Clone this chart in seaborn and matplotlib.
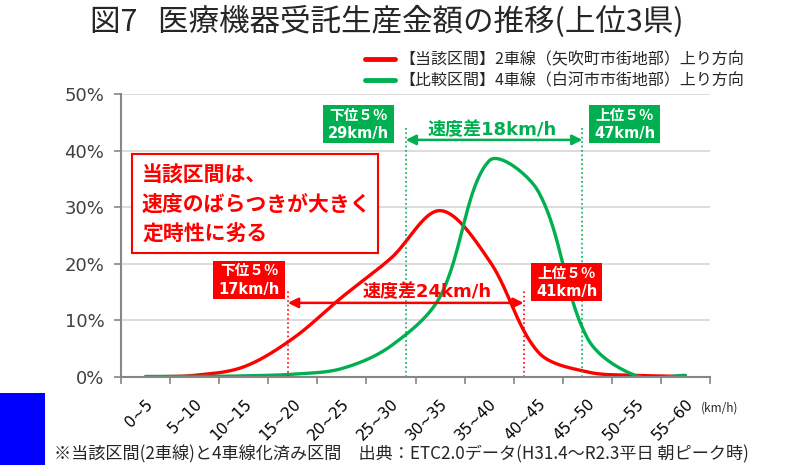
import numpy as np
import pandas as pd
import matplotlib
matplotlib.use("Agg")
import matplotlib.pyplot as plt
import seaborn as sns
from matplotlib.patches import Rectangle

# ---- data -------------------------------------------------------------
categories = ["0~5", "5~10", "10~15", "15~20", "20~25", "25~30",
              "30~35", "35~40", "40~45", "45~50", "50~55", "55~60"]
series_names = ["【当該区間】2車線（矢吹町市街地部）上り方向",
                "【比較区間】4車線（白河市市街地部）上り方向"]
share_2lane = [0.0, 0.3, 1.8, 6.8, 14.1, 21.0, 29.4, 20.6, 4.4, 0.9, 0.3, 0.1]
share_4lane = [0.1, 0.1, 0.2, 0.5, 1.5, 5.5, 14.2, 38.2, 32.8, 6.9, 0.2, 0.3]
pct5_2lane = [17, 41]   # lower / upper 5 % speed (km/h)
pct5_4lane = [29, 47]
y_ticks = [0, 10, 20, 30, 40, 50]

RED = "#FF0000"
GREEN = "#00B050"
X_MAX, Y_MAX = 60, 50

# ---- figure -----------------------------------------------------------
sns.set_theme(style="white")
plt.rcParams["font.family"] = ["DejaVu Sans", "Noto Sans CJK JP"]
JP = ["Noto Sans CJK JP", "DejaVu Sans"]

fig = plt.figure(figsize=(7.89, 4.65), dpi=100)
ax = fig.add_axes([0.1534, 0.1892, 0.7465, 0.6086])


# ---- helpers ----------------------------------------------------------
def bin_centre(label):
    a, b = label.split("~")
    return (float(a) + float(b)) / 2


def smooth(x, y, sx, sy, n=40):
    """Bezier smoothing through every point; control points scaled by
    the on-screen chord lengths of the neighbouring segments."""
    P = np.column_stack([np.asarray(x) * sx, np.asarray(y) * sy]).astype(float)
    P = np.vstack([P[0], P, P[-1]])
    out = []
    t = np.linspace(0, 1, n, endpoint=False)[:, None]
    for i in range(1, len(P) - 2):
        a, b, c, d = P[i - 1], P[i], P[i + 1], P[i + 2]
        dab, dbc, dcd = (np.linalg.norm(b - a), np.linalg.norm(c - b),
                         np.linalg.norm(d - c))
        c1 = b + (c - a) * (dbc / (dab + dbc) if dab + dbc else 0) / 3
        c2 = c - (d - b) * (dbc / (dbc + dcd) if dbc + dcd else 0) / 3
        out.append((1 - t) ** 3 * b + 3 * (1 - t) ** 2 * t * c1
                   + 3 * (1 - t) * t ** 2 * c2 + t ** 3 * c)
    out.append(P[-2][None, :])
    pts = np.vstack(out)
    return pts[:, 0] / sx, pts[:, 1] / sy


bbox = ax.get_window_extent()
sx, sy = bbox.width / X_MAX, bbox.height / Y_MAX
centres = [bin_centre(c) for c in categories]
frames = []
for name, share in zip(series_names, [share_2lane, share_4lane]):
    xs, ys = smooth(centres, share, sx, sy)
    frames.append(pd.DataFrame({"speed": xs, "share": ys, "route": name}))
df = pd.concat(frames, ignore_index=True)

sns.lineplot(data=df, x="speed", y="share", hue="route", sort=False,
             estimator=None, palette=dict(zip(series_names, [RED, GREEN])),
             lw=2.4, ax=ax)

ax.set_xlim(0, X_MAX)
ax.set_ylim(0, Y_MAX)
ax.set_xlabel("")
ax.set_ylabel("")

# y axis
ax.set_yticks(y_ticks)
ax.set_yticklabels([f"{v}%" for v in y_ticks])
ax.yaxis.grid(True, color="#D9D9D9", lw=1.3)
ax.set_axisbelow(True)
ax.tick_params(axis="y", which="major", length=5, width=1.2,
               color="#868686", labelsize=13, labelcolor="#404040", pad=7,
               left=True)

# x axis: tick marks at bin edges, labels at bin centres
ax.set_xticks(np.arange(0, X_MAX + 1, 5))
ax.set_xticklabels([])
ax.tick_params(axis="x", which="major", length=5, width=1.2,
               color="#868686", bottom=True, direction="out")
ax.set_xticks(centres, minor=True)
ax.set_xticklabels(categories, minor=True, rotation=45, ha="right",
                   va="top", rotation_mode="anchor")
ax.tick_params(axis="x", which="minor", length=0, pad=14, labelsize=11,
               labelcolor="#000000")

for side in ["top", "right"]:
    ax.spines[side].set_visible(False)
for side in ["left", "bottom"]:
    ax.spines[side].set_color("#868686")
    ax.spines[side].set_linewidth(1.5)

ax.text(0.985, -0.11, "(km/h)", transform=ax.transAxes, fontsize=8.5,
        ha="left", va="center", family=JP)


# ---- percentile markers ----------------------------------------------
def pct_marker(lo, hi, col, y_arrow, y_top, text, tx, ty):
    for v in (lo, hi):
        ax.plot([v, v], [0, y_top], ls=":", color=col, lw=1.2, zorder=2)
    ax.annotate("", xy=(hi, y_arrow), xytext=(lo, y_arrow),
                arrowprops=dict(arrowstyle="<|-|>", color=col, lw=1.8,
                                mutation_scale=15, shrinkA=0, shrinkB=0),
                zorder=5)
    ax.text(tx, ty, text, color=col, fontsize=13, fontweight="bold",
            ha="center", va="center", zorder=6)


def value_box(cx, cy, head, speed, col):
    w, h = 7.33, 6.7
    ax.add_patch(Rectangle((cx - w / 2, cy - h / 2), w, h, facecolor=col,
                           edgecolor="none", zorder=6))
    ax.text(cx, cy + 1.55, head, color="white", fontsize=10.5,
            fontweight="bold", ha="center", va="center", zorder=7)
    ax.text(cx, cy - 1.65, f"{speed}km/h", color="white", fontsize=10.5,
            fontweight="bold", ha="center", va="center", zorder=7)


pct_marker(pct5_2lane[0], pct5_2lane[1], RED, 13.1, 15.4,
           f"速度差{pct5_2lane[1] - pct5_2lane[0]}km/h", 31.2, 15.0)
pct_marker(pct5_4lane[0], pct5_4lane[1], GREEN, 41.9, 44.0,
           f"速度差{pct5_4lane[1] - pct5_4lane[0]}km/h", 37.8, 43.6)

value_box(13.04, 17.2, "下位５％", pct5_2lane[0], RED)
value_box(45.38, 16.8, "上位５％", pct5_2lane[1], RED)
value_box(24.19, 44.7, "下位５％", pct5_4lane[0], GREEN)
value_box(51.29, 44.7, "上位５％", pct5_4lane[1], GREEN)

# ---- callout ----------------------------------------------------------
ax.add_patch(Rectangle((1.12, 21.9), 25.06, 17.5, facecolor="white",
                       edgecolor=RED, lw=1.5, zorder=6))
for i, line in enumerate(["当該区間は、", "速度のばらつきが大きく", "定時性に劣る"]):
    ax.text(2.14, 35.6 - i * 5.1, line, color=RED, fontsize=15,
            fontweight="bold", ha="left", va="center", family=JP, zorder=7)

# ---- legend, title, footer -------------------------------------------
handles, labels = ax.get_legend_handles_labels()
if ax.get_legend() is not None:
    ax.get_legend().remove()
leg = fig.legend(handles, labels, loc="upper right",
                 bbox_to_anchor=(0.962, 0.92), frameon=False,
                 handlelength=1.9, handletextpad=0.3, labelspacing=0.25,
                 prop={"family": JP, "size": 11.5})
for hnd in leg.get_lines():
    hnd.set_linewidth(3.5)

fig.text(0.49, 0.952, "図7   医療機器受託生産金額の推移(上位3県)",
         ha="center", va="center", fontsize=22, family=JP)
fig.text(0.069, 0.022,
         "※当該区間(2車線)と4車線化済み区間　出典：ETC2.0データ(H31.4～R2.3平日 朝ピーク時)",
         ha="left", va="center", fontsize=12.3, family=JP)

fig.patches.append(Rectangle((0, 0), 0.057, 0.155, transform=fig.transFigure,
                             facecolor="#0000FF", edgecolor="none"))

fig.savefig("out.png", dpi=100)
